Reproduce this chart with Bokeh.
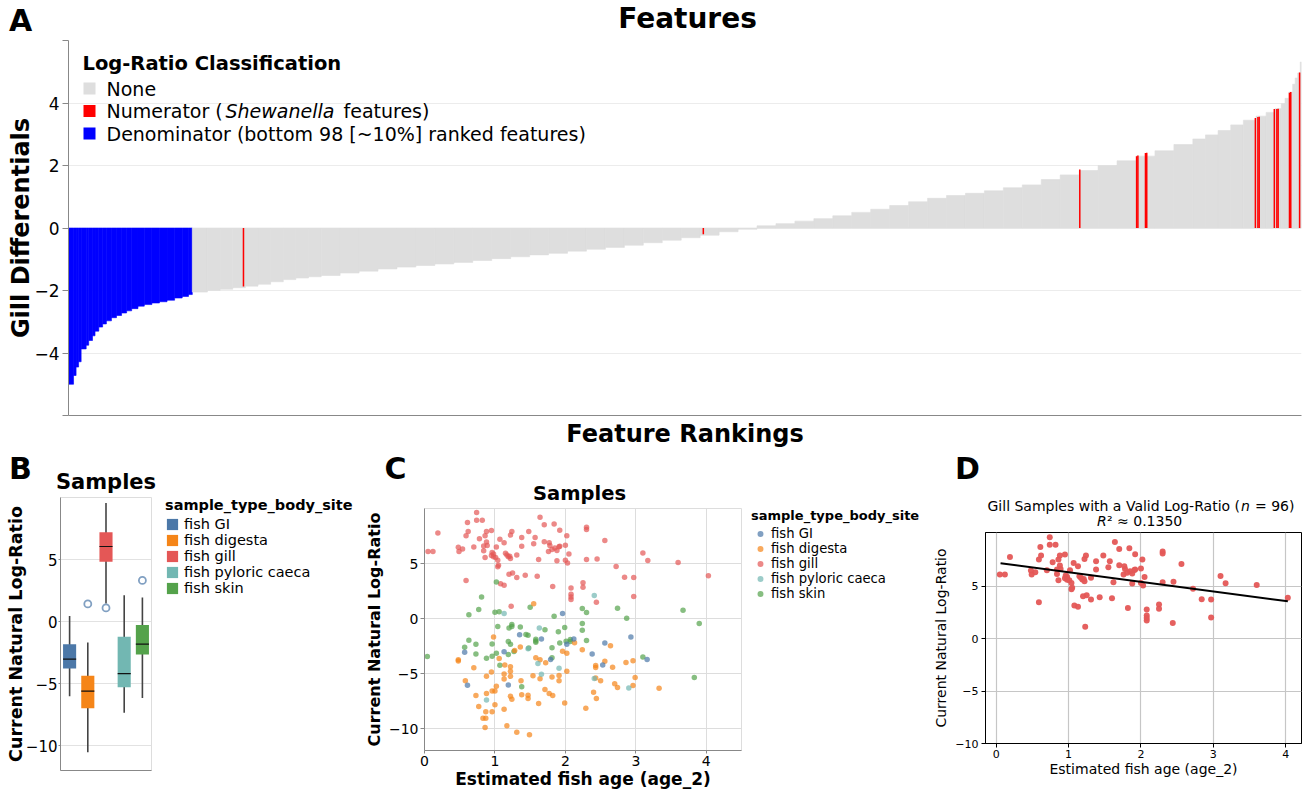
from bokeh.plotting import figure
from bokeh.layouts import column, row
from bokeh.models import Range1d, FixedTicker, Label, BoxAnnotation, Legend, LegendItem
from bokeh.embed import file_html
from bokeh.resources import INLINE

FONT = "DejaVu Sans"

# ---------------- Panel A data (sorted gill differentials, step segments) ----------------
n_features = 976
n_denominator = 98
rank_start = [0, 4, 6, 8, 10, 14, 16, 19, 21, 24, 27, 30, 34, 38, 42, 46, 50, 55, 60, 66, 72, 78, 84, 90, 95,
              98, 110, 120, 130, 140, 150, 160, 170, 180, 190, 200, 215, 230, 245, 260, 275, 290, 305, 320, 335,
              350, 365, 380, 395, 410, 425, 440, 455, 470, 485, 500, 515, 530, 545, 560, 575, 590, 605, 620, 635,
              650, 665, 680, 695, 710, 725, 740, 755, 770, 785, 800, 815, 830, 845, 860, 875, 890, 900, 910, 920,
              930, 940, 948, 955, 960, 963, 966, 969, 971, 973, 975]
rank_value = [-5.00, -4.72, -4.45, -4.28, -3.87, -3.75, -3.60, -3.45, -3.30, -3.17, -3.07, -2.97, -2.87, -2.80, -2.72,
              -2.65, -2.58, -2.50, -2.45, -2.40, -2.36, -2.31, -2.24, -2.19, -2.13,
              -2.05, -2.00, -1.96, -1.91, -1.86, -1.80, -1.72, -1.65, -1.60, -1.56, -1.52, -1.44, -1.38, -1.31, -1.25,
              -1.20, -1.15, -1.10, -1.04, -0.98,
              -0.92, -0.86, -0.81, -0.74, -0.68, -0.62, -0.55, -0.47, -0.39, -0.31, -0.23, -0.12, -0.04, 0.07, 0.14,
              0.22, 0.30, 0.39, 0.50, 0.60,
              0.72, 0.84, 0.95, 1.04, 1.11, 1.19, 1.29, 1.38, 1.55, 1.70, 1.84, 2.00, 2.15, 2.30, 2.47, 2.67, 2.85,
              2.98, 3.12, 3.30,
              3.45, 3.58, 3.70, 3.82, 3.98, 4.15, 4.35, 4.60, 4.80, 4.96, 5.31]
numerator_rank = [138, 502, 800, 845, 846, 852, 853, 939, 941, 942, 954, 956, 957, 966, 967, 974]
numerator_value = [-1.87, -0.20, 1.87, 2.30, 2.32, 2.40, 2.41, 3.52, 3.55, 3.56, 3.81, 3.81, 3.82, 4.33, 4.35, 4.98]

# ---------------- Panel B data (box plot summaries) ----------------
body_sites = ["fish GI", "fish digesta", "fish gill", "fish pyloric caeca", "fish skin"]
site_colors = ["#4c78a8", "#f58518", "#e45756", "#72b7b2", "#54a24b"]
box_lower = [-6.02, -10.52, 1.45, -7.34, -6.16]
box_q1 = [-3.78, -6.99, 4.82, -5.30, -2.65]
box_median = [-3.03, -5.60, 6.05, -4.20, -1.82]
box_q3 = [-1.82, -4.36, 7.20, -1.23, -0.27]
box_upper = [0.46, -1.69, 9.56, 2.12, 1.95]
outlier_site = ["fish digesta", "fish gill", "fish skin"]
outlier_value = [1.42, 1.10, 3.32]

# ---------------- Panel C / D data (age vs log-ratio) ----------------
gill_age = [0.05, 0.12, 0.19, 0.59, 0.48, 0.49, 0.54, 0.59, 0.61, 0.62,
            0.70, 0.74, 0.74, 0.78, 0.82, 0.84, 0.86, 0.86, 0.88, 0.88,
            0.89, 0.95, 0.96, 0.98, 1.01, 1.02, 1.04, 1.05, 1.07, 1.08,
            1.13, 1.13, 1.15, 1.17, 1.20, 1.19, 1.22, 1.24, 1.25, 1.23,
            1.22, 1.31, 1.31, 1.38, 1.38, 1.43, 1.48, 1.55, 1.57, 1.60,
            1.62, 1.64, 1.70, 1.70, 1.77, 1.78, 1.76, 1.82, 1.84, 1.85,
            1.88, 1.88, 1.92, 1.92, 2.00, 2.02, 2.00, 2.03, 2.05, 2.08,
            2.08, 2.08, 2.08, 2.25, 2.25, 2.30, 2.30, 2.30, 2.44, 2.45,
            2.56, 2.72, 2.84, 2.97, 2.97, 3.10, 3.17, 3.60, 4.03,
            0.84, 0.95, 0.98, 1.04, 1.21, 1.81, 1.91]
gill_lr = [6.09, 6.09, 7.77, 3.46, 6.47, 6.09, 6.31, 7.52, 8.72, 7.90,
           6.50, 9.64, 8.94, 7.26, 8.94, 6.15, 5.55, 7.52, 7.90, 6.95,
           6.63, 8.00, 6.00, 5.87, 5.55, 6.50, 5.30, 4.83, 7.20, 3.15,
           6.88, 3.02, 5.93, 5.78, 4.03, 5.62, 7.58, 7.90, 4.13, 1.12,
           5.46, 5.78, 3.72, 7.36, 6.57, 3.94, 7.90, 6.79, 7.36, 3.84,
           5.36, 9.20, 8.53, 6.98, 6.88, 6.63, 6.09, 2.90, 8.59, 6.41,
           6.19, 5.24, 8.02, 6.57, 6.66, 7.52, 5.30, 5.05, 5.87, 2.77,
           2.20, 1.95, 1.72, 3.24, 2.83, 8.30, 8.09, 5.36, 1.47, 5.40,
           7.10, 4.73, 3.75, 3.72, 2.00, 5.96, 5.27, 5.10, 3.88,
           6.58, 5.73, 5.61, 4.70, 5.67, 6.27, 6.52]
gill_fit_age = [0.06, 4.03]
gill_fit_lr = [7.18, 3.55]
gi_age = [0.57, 0.61, 1.13, 1.19, 1.35, 1.66, 1.79, 1.96, 2.02, 2.12, 2.38, 2.53, 2.56, 2.93, 3.16]
gi_lr = [-3.06, -6.07, -3.02, -6.04, -1.47, -1.86, -3.73, 0.45, -2.33, -1.86, -3.22, -4.22, -2.22, -1.68, -3.73]
pyloric_age = [0.88, 1.13, 1.47, 1.61, 1.63, 1.66, 1.91, 2.41, 2.41, 2.90]
pyloric_lr = [-7.40, 0.45, -2.75, -4.09, -0.86, -5.07, -4.52, 2.08, -5.46, -6.32]
skin_age = [0.04, 0.57, 0.63, 0.63, 0.73, 0.73, 0.77, 0.81, 0.88, 0.96, 0.96, 1.00, 1.02, 1.02, 1.04, 1.06,
            1.07, 1.19, 1.19, 1.20, 1.22, 1.24, 1.24, 1.27, 1.36, 1.38, 1.44, 1.47, 1.48, 1.50, 1.58, 1.58,
            1.58, 1.71, 1.81, 1.81, 1.84, 1.90, 1.92, 1.99, 2.01, 2.07, 2.07, 2.24, 2.24, 2.24, 2.30, 2.30,
            2.74, 2.87, 3.10, 3.67, 3.83, 3.90]
skin_lr = [-3.45, -2.61, -1.97, 0.33, -2.33, -3.22, 0.82, 1.96, -3.61, -2.32, -3.43, 0.56, 3.31, -3.17, -0.72, 0.62,
           -4.25, -2.08, -3.28, -0.87, -2.34, -0.55, -0.72, -3.00, -0.78, -6.20, -1.46, -1.52, -2.68, 1.03, -1.88,
           -2.05, -2.17, -1.03, -3.57, -2.67, 0.20, -1.20, -2.22, -0.81, -2.07, -1.92, -2.10, -0.45, -1.06, 0.90,
           0.54, -2.01, 0.93, 0.02, -3.51, 0.75, -5.37, -0.45]
digesta_age = [0.48, 0.48, 0.58, 0.70, 0.73, 0.77, 0.83, 0.86, 0.87, 0.87, 0.88, 0.88, 0.95, 0.96, 0.96, 0.98,
               1.00, 1.00, 1.02, 1.06, 1.14, 1.13, 1.13, 1.13, 1.17, 1.22, 1.22, 1.22, 1.22, 1.24, 1.28, 1.31,
               1.36, 1.37, 1.38, 1.47, 1.47, 1.55, 1.58, 1.54, 1.64, 1.64, 1.62, 1.49, 1.71, 1.72, 1.77, 1.82,
               1.81, 1.91, 1.91, 1.96, 2.02, 1.99, 2.02, 2.13, 2.24, 2.29, 2.40, 2.43, 2.43, 2.44, 2.43, 2.50,
               2.56, 2.64, 2.67, 2.70, 2.74, 2.86, 2.96, 2.96, 2.99, 3.33]
digesta_lr = [-3.75, -3.87, -5.65, -4.47, -7.00, -8.00, -9.07, -9.91, -9.07, -8.47, -6.82, -5.26, -4.86, -6.58,
              -8.47, -1.68, -7.84, -6.58, -6.16, -3.63, -4.23, -5.05, -5.50, -8.26, -9.76, -4.38, -4.80, -5.26,
              -7.06, -7.33, -2.91, -10.33, -2.58, -5.65, -6.94, -6.97, -7.27, 1.35, -3.57, -5.20, -3.75, -5.47,
              -7.72, -10.57, -6.46, -4.02, -6.82, -7.00, -5.32, -5.19, -5.67, -2.97, -4.80, -7.69, -3.15, -2.20,
              -2.84, -8.17, -6.70, -4.28, -4.46, -7.27, -5.40, -5.67, -3.89, -2.47, -4.43, -5.94, -6.27, -4.01,
              -3.83, -6.09, -5.37, -6.33]


def add_text(p, text, x, y, size, style="normal", align="left", baseline="middle", color="black"):
    p.add_layout(Label(x=x, y=y, x_units="screen", y_units="screen", text=text, text_font=FONT,
                       text_font_size=f"{size}px", text_font_style=style, text_align=align,
                       text_baseline=baseline, text_color=color))


def style_axis(ax, tick_size, label_size, label_style, line_color, tick_out, label_standoff, axis_label_standoff):
    ax.major_label_text_font = FONT
    ax.major_label_text_font_size = f"{tick_size}px"
    ax.major_label_text_color = "black"
    ax.axis_label_text_font = FONT
    ax.axis_label_text_font_size = f"{label_size}px"
    ax.axis_label_text_font_style = label_style
    ax.axis_label_text_color = "black"
    ax.axis_line_color = line_color
    ax.major_tick_line_color = line_color
    ax.major_tick_out = tick_out
    ax.major_tick_in = 0
    ax.minor_tick_line_color = None
    ax.minor_tick_out = 0
    ax.major_label_standoff = label_standoff
    ax.axis_label_standoff = axis_label_standoff


def blank(width, height):
    # text / legend panel: its own ranges lie far from every data value, so key glyphs stay off-screen
    h = figure(width=width, height=height, x_range=Range1d(1000, 1001), y_range=Range1d(1000, 1001),
               x_axis_type=None, y_axis_type=None, title=None, output_backend="svg", toolbar_location=None,
               min_border_left=0, min_border_right=0, min_border_top=0, min_border_bottom=0)
    h.outline_line_color = None
    h.grid.visible = False
    return h


def legend_panel(p, items, title, title_size, label_size, gw, gh, standoff):
    leg = Legend(items=items, location="top_left", title=title,
                 title_text_font=FONT, title_text_font_size=title_size, title_text_font_style="bold",
                 title_text_color="black", title_standoff=3, label_text_font=FONT,
                 label_text_font_size=label_size, label_text_color="black",
                 glyph_width=gw, glyph_height=gh, label_height=12, label_width=10, label_standoff=standoff,
                 spacing=0, padding=0, margin=0, border_line_color=None, background_fill_alpha=0)
    p.add_layout(leg, "center")


# ======================= Panel A =======================
hA = blank(1302, 40)
add_text(hA, "A", 20, 20, 30, "bold", "center")
add_text(hA, "Features", 687, 22, 28, "bold", "center")

WA, HA = 1302, 410
A_left, A_right, A_top, A_bottom = 68, 1, 0, 35
fhA = HA - A_top - A_bottom
pA = figure(width=WA, height=HA, x_range=Range1d(0, n_features), y_range=Range1d(-6, 6), title=None,
            output_backend="svg", toolbar_location=None,
            min_border_left=A_left, min_border_right=A_right, min_border_top=A_top, min_border_bottom=A_bottom)
pA.outline_line_color = None
pA.xgrid.visible = False
a_ticks = [-6, -4, -2, 0, 2, 4, 6]
pA.ygrid.ticker = FixedTicker(ticks=a_ticks)
pA.ygrid.grid_line_color = "#ececec"
yA = pA.yaxis[0]
yA.ticker = FixedTicker(ticks=a_ticks)
yA.major_label_overrides = {-6: "", 6: ""}
yA.axis_label = "Gill Differentials"
style_axis(yA, 17, 24, "bold", "#888888", 6, 3, -4)
xA = pA.xaxis[0]
xA.ticker = FixedTicker(ticks=[])
xA.axis_label = "Feature Rankings"
style_axis(xA, 1, 24, "bold", "#888888", 0, 0, 4)
xA.major_label_text_font_size = "0px"

seg_right = rank_start[1:] + [n_features]
seg_colors = ["#0000ff" if s < n_denominator else "#dedede" for s in rank_start]
pA.quad(left=rank_start, right=seg_right,
        top=[max(v, 0) for v in rank_value], bottom=[min(v, 0) for v in rank_value],
        fill_color=seg_colors, line_color=seg_colors, line_width=0.6)
pA.vbar(x=[r + 0.5 for r in numerator_rank], width=1.2,
        top=[max(v, 0) for v in numerator_value], bottom=[min(v, 0) for v in numerator_value],
        fill_color="#ff0000", line_color=None)

add_text(pA, "Log-Ratio Classification", 14, fhA - 22.5, 19.5, "bold")
legend_colors = ["#dedede", "#ff0000", "#0000ff"]
row_offsets = [48, 70.5, 93]
for c, off in zip(legend_colors, row_offsets):
    pA.add_layout(BoxAnnotation(left=15, right=27, top=fhA - off + 6, bottom=fhA - off - 6,
                                left_units="screen", right_units="screen", top_units="screen",
                                bottom_units="screen", fill_color=c, fill_alpha=1.0, line_color=None))
add_text(pA, "None", 38, fhA - 48, 19)
add_text(pA, "Numerator (", 38, fhA - 70.5, 19)
add_text(pA, "Shewanella", 157, fhA - 70.5, 19, "italic")
add_text(pA, "features)", 275, fhA - 70.5, 19)
add_text(pA, "Denominator (bottom 98 [~10%] ranked features)", 38, fhA - 93, 19)

# ======================= Panel B =======================
hB = blank(361, 47)
add_text(hB, "B", 20, 29, 30, "bold", "center")
add_text(hB, "Samples", 105.5, 16, 21, "bold", "center")

B_left, B_bottom, fwB, B_gap = 60, 22, 91, 14
WB = B_left + fwB + B_gap
HB = 295
pB = figure(width=WB, height=HB, x_range=Range1d(-0.5, len(body_sites) - 0.5), y_range=Range1d(-12, 10),
            title=None, output_backend="svg", toolbar_location=None,
            min_border_left=B_left, min_border_right=B_gap, min_border_top=0, min_border_bottom=B_bottom)
pB.outline_line_color = "#dddddd"
pB.xgrid.visible = False
b_ticks = [-10, -5, 0, 5]
pB.ygrid.ticker = FixedTicker(ticks=b_ticks)
pB.ygrid.grid_line_color = "#e2e2e2"
yB = pB.yaxis[0]
yB.ticker = FixedTicker(ticks=b_ticks)
yB.axis_label = "Current Natural Log-Ratio"
style_axis(yB, 15, 17.5, "bold", "#888888", 2, 1, -3)
xB = pB.xaxis[0]
xB.ticker = FixedTicker(ticks=[])
style_axis(xB, 1, 10, "normal", "#888888", 0, 0, 0)
xB.major_label_text_font_size = "0px"

for i, site in enumerate(body_sites):
    pB.segment(x0=[i], y0=[box_lower[i]], x1=[i], y1=[box_upper[i]], line_color="#444444", line_width=1.6)
    pB.vbar(x=[i], width=0.72, top=[box_q3[i]], bottom=[box_q1[i]], fill_color=site_colors[i], line_color=None)
    pB.segment(x0=[i - 0.36], y0=[box_median[i]], x1=[i + 0.36], y1=[box_median[i]],
               line_color="#111111", line_width=1.2)
pB.scatter(x=[body_sites.index(s) for s in outlier_site], y=outlier_value, marker="circle", size=7,
           fill_color=None, line_color="#4c78a8", line_alpha=0.7, line_width=1.8)

lgB = blank(361 - WB, HB)
keyB = [lgB.vbar(x=[i], top=[box_q3[i]], bottom=[box_q1[i]], width=0.72, fill_color=site_colors[i],
                 line_color=None) for i in range(len(body_sites))]
legend_panel(lgB, [LegendItem(label=s, renderers=[r]) for s, r in zip(body_sites, keyB)],
             "sample_type_body_site", "14.5px", "14.5px", 14, 14, 5)

# ======================= Panel C =======================
hC = blank(569, 58)
add_text(hC, "C", 34, 40, 30, "bold", "center")
add_text(hC, "Samples", 218, 15, 19.5, "bold", "center")

C_left, C_bottom, fwC, C_gap = 56, 42, 324, 10
WC = C_left + fwC + C_gap
HC = 284
pC = figure(width=WC, height=HC, x_range=Range1d(0, 4.5), y_range=Range1d(-12, 10), title=None,
            output_backend="svg", toolbar_location=None,
            min_border_left=C_left, min_border_right=C_gap, min_border_top=0, min_border_bottom=C_bottom)
pC.outline_line_color = "#dddddd"
c_yticks = [-10, -5, 0, 5]
c_xticks = [0, 1, 2, 3, 4]
pC.ygrid.ticker = FixedTicker(ticks=c_yticks)
pC.xgrid.ticker = FixedTicker(ticks=c_xticks)
pC.grid.grid_line_color = "#dddddd"
yC = pC.yaxis[0]
yC.ticker = FixedTicker(ticks=c_yticks)
yC.axis_label = "Current Natural Log-Ratio"
style_axis(yC, 14, 16, "bold", "#888888", 4, 2, 2)
xC = pC.xaxis[0]
xC.ticker = FixedTicker(ticks=c_xticks)
xC.axis_label = "Estimated fish age (age_2)"
style_axis(xC, 14, 17, "bold", "#888888", 3, 2, 0)

c_groups = [(gill_age, gill_lr, 2), (skin_age, skin_lr, 4), (digesta_age, digesta_lr, 1),
            (gi_age, gi_lr, 0), (pyloric_age, pyloric_lr, 3)]
for ages, lrs, k in c_groups:
    pC.scatter(x=ages, y=lrs, marker="circle", size=5.5, fill_color=site_colors[k], fill_alpha=0.7,
               line_color=None)

lgC = blank(569 - WC, HC)
c_series = {0: (gi_age, gi_lr), 1: (digesta_age, digesta_lr), 2: (gill_age, gill_lr),
            3: (pyloric_age, pyloric_lr), 4: (skin_age, skin_lr)}
keyC = [lgC.scatter(x=c_series[k][0], y=c_series[k][1], marker="circle", fill_color=site_colors[k],
                    fill_alpha=0.7, line_color=None) for k in range(len(body_sites))]
legend_panel(lgC, [LegendItem(label=s, renderers=[r]) for s, r in zip(body_sites, keyC)],
             "sample_type_body_site", "13px", "13.2px", 18, 15, 2)

# ======================= Panel D =======================
hD = blank(372, 82)
add_text(hD, "D", 37, 64, 30, "bold", "center")
xc = 209.5
add_text(hD, "Gill Samples with a Valid Log-Ratio (", xc + 100, 27, 14, align="right")
add_text(hD, "n", xc + 101, 27, 14, "italic")
add_text(hD, "= 96)", xc + 115, 27, 14)
add_text(hD, "R", xc - 43, 12, 14, "italic")
add_text(hD, "\u00b2 \u2248 0.1350", xc - 33, 12, 14)

WD, HD = 372, 260
D_left, D_right, D_top, D_bottom = 48, 1, 0, 49
pD = figure(width=WD, height=HD, x_range=Range1d(-0.148, 4.219), y_range=Range1d(-10, 10.1), title=None,
            output_backend="svg", toolbar_location=None,
            min_border_left=D_left, min_border_right=D_right, min_border_top=D_top, min_border_bottom=D_bottom)
pD.outline_line_color = "black"
pD.outline_line_width = 1
pD.ygrid.ticker = FixedTicker(ticks=[-10, -5, 0, 5])
pD.xgrid.ticker = FixedTicker(ticks=[0, 1, 2, 3, 4])
pD.grid.grid_line_color = "#c6c6c6"
pD.grid.grid_line_width = 1.2
yD = pD.yaxis[0]
yD.ticker = FixedTicker(ticks=[-10, -5, 0, 5])
yD.major_label_overrides = {-10: "\u221210", -5: "\u22125"}
yD.axis_label = "Current Natural Log-Ratio"
style_axis(yD, 11, 14, "normal", "black", 4, 3, 3)
xD = pD.xaxis[0]
xD.ticker = FixedTicker(ticks=[0, 1, 2, 3, 4])
xD.axis_label = "Estimated fish age (age_2)"
style_axis(xD, 11, 14, "normal", "black", 4, 2, 0)

pD.scatter(x=gill_age, y=gill_lr, marker="circle", size=6, fill_color="#e45756", fill_alpha=0.95,
           line_color=None)
pD.line(x=gill_fit_age, y=gill_fit_lr, line_color="black", line_width=2)

layout = column(
    row(hA),
    row(pA),
    row(column(row(hB), row(pB, column(lgB))),
        column(row(hC), row(pC, column(lgC))),
        column(row(hD), row(pD))),
)
open("out.html", "w").write(file_html(layout, INLINE))
